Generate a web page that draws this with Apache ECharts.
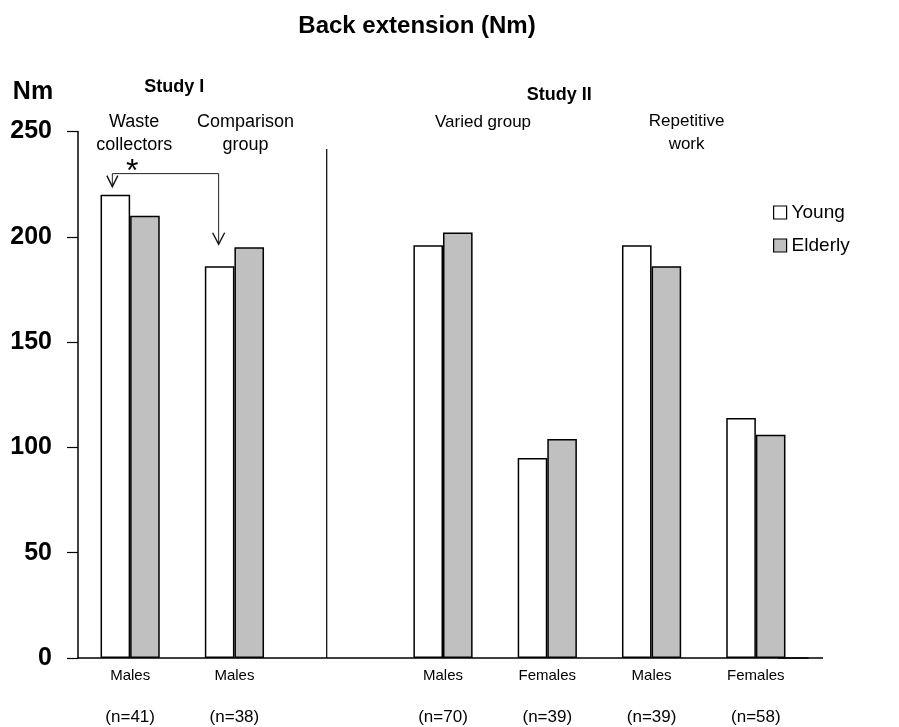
<!DOCTYPE html>
<html><head><meta charset="utf-8">
<script src="https://cdn.jsdelivr.net/npm/echarts@6/dist/echarts.min.js"></script>
<style>html,body{margin:0;padding:0;background:#fff}#c{width:899px;height:727px}</style>
</head><body><div id="c"></div>
<script>
// ---- data ----
const categories = ['Males', 'Males', '', 'Males', 'Females', 'Males', 'Females'];
const sampleSizes = ['(n=41)', '(n=38)', '', '(n=70)', '(n=39)', '(n=39)', '(n=58)'];
const young = [220, 186, null, 196, 95, 196, 114];
const elderly = [210, 195, null, 202, 104, 186, 106];
const seriesNames = ['Young', 'Elderly'];
const yMin = 0, yMax = 250, yStep = 50;
const titleText = 'Back extension (Nm)';
const yAxisTitle = 'Nm';
const groupLabels = [
  { text: 'Study I', bold: true },
  { text: 'Waste\ncollectors' },
  { text: 'Comparison\ngroup' },
  { text: 'Study II', bold: true },
  { text: 'Varied group' },
  { text: 'Repetitive\nwork' }
];

const FONT = "'Liberation Sans', Arial, sans-serif";
const ySize = 25;
const catSize = 15;

const chart = echarts.init(document.getElementById('c'), null, { renderer: 'canvas' });
const BW = 29.6;

const option = {
  animation: false,
  backgroundColor: '#fff',
  grid: { left: 78, top: 131.5, width: 730, bottom: 69, containLabel: false },
  legend: {
    orient: 'vertical', left: 773, top: 203, itemGap: 14, padding: 0,
    itemWidth: 13, itemHeight: 13, icon: 'rect',
    textStyle: { fontFamily: FONT, fontSize: 19, color: '#000' },
    data: [
      { name: seriesNames[0], itemStyle: { color: '#fff', borderColor: '#000', borderWidth: 1.2 } },
      { name: seriesNames[1], itemStyle: { color: '#c0c0c0', borderColor: '#000', borderWidth: 1.2 } }
    ]
  },
  xAxis: {
    type: 'category', data: categories,
    axisLine: { lineStyle: { color: '#000', width: 1.5 } },
    axisTick: { show: false },
    axisLabel: {
      interval: 0, margin: 8, color: '#000',
      formatter: (v, i) => '{a|' + v + '}\n{b|' + sampleSizes[i] + '}',
      rich: {
        a: { fontFamily: FONT, fontSize: catSize, lineHeight: 20, color: '#000' },
        b: { fontFamily: FONT, fontSize: 17, lineHeight: 62, color: '#000' }
      }
    }
  },
  yAxis: {
    type: 'value', min: yMin, max: yMax, interval: yStep,
    axisLine: { show: true, lineStyle: { color: '#000', width: 1.5 } },
    axisTick: { show: true, inside: false, length: 11, lineStyle: { color: '#000', width: 1.2 } },
    splitLine: { show: false },
    axisLabel: { fontFamily: FONT, fontSize: ySize, fontWeight: 'bold', color: '#000', margin: 26 }
  },
  series: [
    { name: seriesNames[0], type: 'bar', data: young, barWidth: BW, barGap: '0%',
      itemStyle: { color: '#fff', borderColor: '#000', borderWidth: 1.5 } },
    { name: seriesNames[1], type: 'bar', data: elderly, barWidth: BW, barGap: '0%',
      itemStyle: { color: '#c0c0c0', borderColor: '#000', borderWidth: 1.5 } }
  ]
};
chart.setOption(option);

// ---- annotations positioned from the axes ----
const px = i => chart.convertToPixel({ xAxisIndex: 0 }, i);
const py = v => chart.convertToPixel({ yAxisIndex: 0 }, v);
const y0 = py(0);
const gridRight = 78 + 730;
const c0 = px(0), c1 = px(1), c2 = px(2), c3 = px(3), c4 = px(4), c5 = px(5);

function txt(x, y, text, size, bold) {
  return {
    type: 'text', x: x, y: y, silent: true,
    style: { text: text, fontFamily: FONT, fontSize: size, fontWeight: bold ? 'bold' : 'normal',
      fill: '#000', align: 'center', verticalAlign: 'middle', lineHeight: 23 }
  };
}

const arrowY = py(230);
const a1x = c0 - BW / 2 - 3, a1tip = py(young[0]) - 8;
const a2x = c1 - BW / 2 - 1, a2tip = py(young[1]) - 22;

const graphics = [
  txt(417, 26, titleText, 24, true),
  txt(33, 92, yAxisTitle, ySize, true),
  txt((c0 + c1) / 2 - 8, 87, groupLabels[0].text, 18, true),
  txt(c0 + 4, 133.5, groupLabels[1].text, 18, false),
  txt(c1 + 11, 133.5, groupLabels[2].text, 18, false),
  txt(c4 + 12, 95, groupLabels[3].text, 18, true),
  txt(c3 + 40, 122, groupLabels[4].text, 17, false),
  txt(c5 + 35, 133, groupLabels[5].text, 17, false),
  txt(c0 + 2, 172, '*', 32, false),
  // x axis extension
  { type: 'line', silent: true, shape: { x1: gridRight - 30, y1: y0, x2: gridRight + 15, y2: y0 },
    style: { stroke: '#000', lineWidth: 1.5, lineCap: 'butt' } },
  // divider between studies
  { type: 'line', silent: true, shape: { x1: c2 - 12, y1: 149, x2: c2 - 12, y2: y0 },
    style: { stroke: '#000', lineWidth: 1.2 } },
  // significance bracket
  { type: 'polyline', silent: true,
    shape: { points: [[a1x, a1tip], [a1x, arrowY], [a2x, arrowY], [a2x, a2tip]] },
    style: { stroke: '#222', lineWidth: 1, fill: null } },
  { type: 'polyline', silent: true,
    shape: { points: [[a1x - 5.5, a1tip - 11], [a1x, a1tip], [a1x + 5.5, a1tip - 11]] },
    style: { stroke: '#111', lineWidth: 1.4, fill: null } },
  { type: 'polyline', silent: true,
    shape: { points: [[a2x - 6, a2tip - 11.5], [a2x, a2tip], [a2x + 6, a2tip - 11.5]] },
    style: { stroke: '#111', lineWidth: 1.4, fill: null } }
];
chart.setOption({ graphic: graphics });
</script>
</body></html>
